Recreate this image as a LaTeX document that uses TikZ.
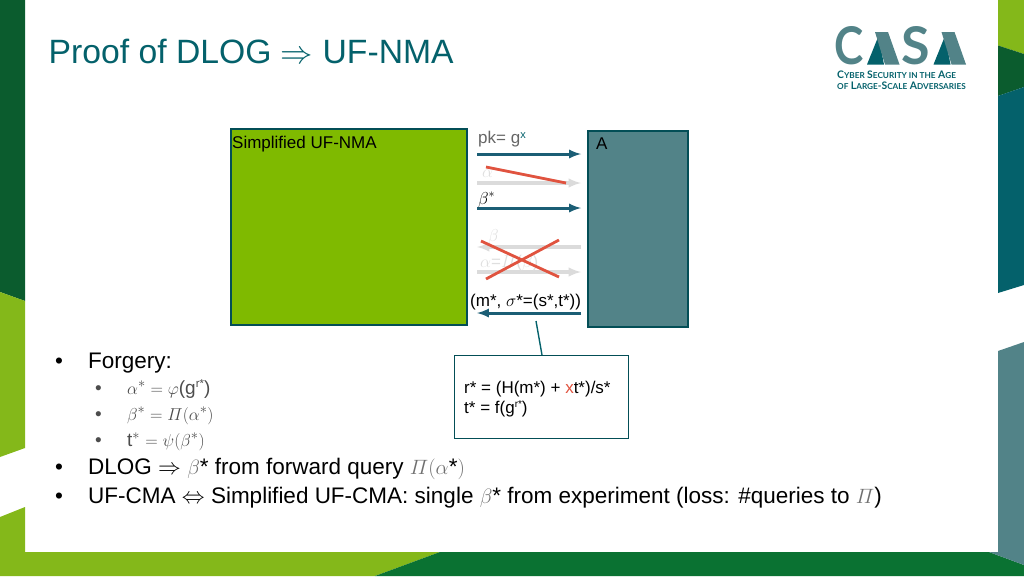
\documentclass[tikz,border=0pt]{standalone}
\usepackage{amsmath}
\usepackage{graphicx}
\usepackage{fontspec}
\setmainfont{Liberation Sans}
\newfontfamily\logofont{Lato}
\usetikzlibrary{calc}
\definecolor{lightgreen}{HTML}{84B81A}
\definecolor{darkgreen}{HTML}{0B5C2E}
\definecolor{midgreen}{HTML}{0A7232}
\definecolor{darkteal}{HTML}{04616B}
\definecolor{greyteal}{HTML}{528388}
\definecolor{gamegreen}{HTML}{7FBA00}
\definecolor{arrowblue}{HTML}{1B5E75}
\definecolor{crossred}{HTML}{E0533F}
\definecolor{mathgrey}{HTML}{6F6F6F}
\newcommand{\greymath}[1]{\textcolor{mathgrey}{$#1$}}
\newcommand{\lc}[2]{{\fontsize{10.4}{12}\selectfont #1\fontsize{8.2}{12}\selectfont #2}}
\tikzset{
  party/.style={draw=#1,line width=1.4pt,inner sep=0pt},
  msg/.style={->,>=latex,color=arrowblue,line width=3pt},
  gone/.style={->,>=latex,color=gray!28,line width=3.2pt},
  strike/.style={color=crossred,line width=2.8pt},
  body/.style={anchor=base west,inner sep=0pt,font=\fontsize{22.5}{26}\selectfont},
  sub/.style={anchor=base west,inner sep=0pt,font=\fontsize{19}{23}\selectfont,text=black!70},
  small/.style={anchor=base west,inner sep=0pt,font=\fontsize{17}{20}\selectfont},
  logoletter/.style={anchor=base west,inner sep=0pt,text=greyteal,font=\logofont\bfseries\fontsize{52}{52}\selectfont},
  logoline/.style={anchor=base west,inner sep=0pt,text=darkteal,font=\logofont\bfseries}
}
\begin{document}
\begin{tikzpicture}[x=1pt,y=-1pt]
  \useasboundingbox(0,0)rectangle(1024,576);
  % frame
  \fill[darkgreen](0,0)--(25,0)--(25,301)--(0,292)--cycle;
  \fill[lightgreen](0,292)--(25,301)--(25,448)--(0,457)--cycle;
  \fill[lightgreen](0,517)--(25,507)--(25,552)--(440,552)--(375,576)--(0,576)--cycle;
  \fill[midgreen](440,552)--(989,552)--(1024,565)--(1024,576)--(375,576)--cycle;
  \fill[lightgreen](998,0)--(1024,0)--(1024,54)--(998,45.5)--cycle;
  \fill[darkgreen](998,45.5)--(1024,54)--(1024,87)--(998,96)--cycle;
  \fill[darkteal](998,96)--(1024,87)--(1024,285)--(998,293)--cycle;
  \fill[greyteal](998,351)--(1024,342)--(1024,565)--(989,552)--(998,552)--cycle;
  % logo
  \node[logoletter](logoC)at(834.5,64.5){\scalebox{.85}[1]{C}};
  \node[logoletter](logoS)at(901,64.5){S};
  \foreach \x in {0,66.5}{
    \fill[darkteal]($(867,64.5)+(\x,0)$)--($(878.5,36)+(\x,0)$)--($(884,64.5)+(\x,0)$)--cycle;
    \fill[greyteal]($(875,32)+(\x,0)$)--($(888,32)+(\x,0)$)--($(899.5,64.5)+(\x,0)$)--($(885,64.5)+(\x,0)$)--cycle;
  }
  \node[logoline](logoa)at(837,78){\lc{C}{YBER} \lc{S}{ECURITY IN THE} \lc{A}{GE}};
  \node[logoline](logob)at(837,89.5){\lc{}{OF} \lc{L}{ARGE}-\lc{S}{CALE} \lc{A}{DVERSARIES}};
  % title
  \node[anchor=base west,inner sep=0pt,text=darkteal,font=\fontsize{33.7}{38}\selectfont](title)at(48.5,63){Proof of DLOG \scalebox{1.3}{$\Rightarrow$} UF-NMA};
  % parties
  \draw[party=darkteal!80!black,fill=gamegreen](231,129)rectangle(467,325);
  \node[small,anchor=north west](gamename)at(232,136){Simplified UF-NMA};
  \draw[party=darkteal!80!black,fill=greyteal](588,131)rectangle(688,327);
  \node[small,anchor=north west](advname)at(596,138){A};
  % messages
  \foreach \n/\y in {pk/154,alpha/183,beta/208,betaq/247,alphaq/272,sig/313}{
    \coordinate(L\n)at(477,\y);
    \coordinate(R\n)at(581,\y);
  }
  \draw[gone](Lalpha)--(Ralpha);
  \draw[gone](Rbetaq)--(Lbetaq);
  \draw[gone](Lalphaq)--(Ralphaq);
  \draw[msg](Lpk)--(Rpk);
  \draw[msg](Lbeta)--(Rbeta);
  \draw[msg](Rsig)--(Lsig);
  \node[small,text=black!60](pk)at(478,143){pk= g\raisebox{.5ex}{\fontsize{11}{11}\selectfont\textcolor{darkteal}{x}}};
  \node[small,text=gray!25](alpha)at(482,177){$\alpha$};
  \node[small](beta)at(478,204){$\beta^*$};
  \node[small,text=gray!25](betaq)at(488,241){$\beta$};
  \node[small,text=gray!25](alphaq)at(480,267){$\alpha$=$\varPi$($\beta$)};
  \node[small](sig)at(470,306){(m*, $\sigma$*=(s*,t*))};
  % crossed out
  \coordinate(Sa)at(486,167);\coordinate(Sb)at(566,183);
  \coordinate(Xa)at(481,241);\coordinate(Xb)at(559,277);
  \coordinate(Xc)at(486,279);\coordinate(Xd)at(559,240);
  \draw[strike](Sa)--(Sb);
  \draw[strike](Xa)--(Xb);
  \draw[strike](Xc)--(Xd);
  % verification
  \node[party=darkteal!80!black,minimum width=174pt,minimum height=83pt,anchor=north west](check)at(454,355){};
  \coordinate(callout)at(536,321);
  \draw[color=darkteal,line width=1.4pt](callout)--(542,355);
  \node[small](checka)at(464,393){r* = (H(m*) + \textcolor{crossred}{x}t*)/s*};
  \node[small](checkb)at(464,413){t* = f(g\raisebox{.6ex}{\fontsize{10}{10}\selectfont r*})};
  % bullets
  \foreach \n/\y in {a/368,b/474,c/503}{
    \node[body](bullet\n)at(55,\y){•};
  }
  \foreach \n/\y in {a/394,b/420,c/446}{
    \node[sub](subbullet\n)at(95,\y){•};
  }
  \node[body](forgery)at(88,368){Forgery:};
  \node[sub](lineA)at(127,394){$\alpha^*=\varphi$(g\raisebox{.6ex}{\fontsize{11.5}{11}\selectfont r*})};
  \node[sub](lineB)at(127,420){$\beta^*=\varPi(\alpha^*)$};
  \node[sub](lineC)at(127,446){t$^*$ $=\psi(\beta^*)$};
  \node[body](dlog)at(88,474){DLOG \scalebox{1.1}{$\Rightarrow$} \greymath{\beta}* from forward query \greymath{\varPi(\alpha}*\greymath{)}};
  \node[body](ufcma)at(88,503){UF-CMA \scalebox{1.1}{$\Leftrightarrow$} Simplified UF-CMA: single \greymath{\beta}* from experiment (loss: \#queries to \greymath{\varPi})};
\end{tikzpicture}
\end{document}
